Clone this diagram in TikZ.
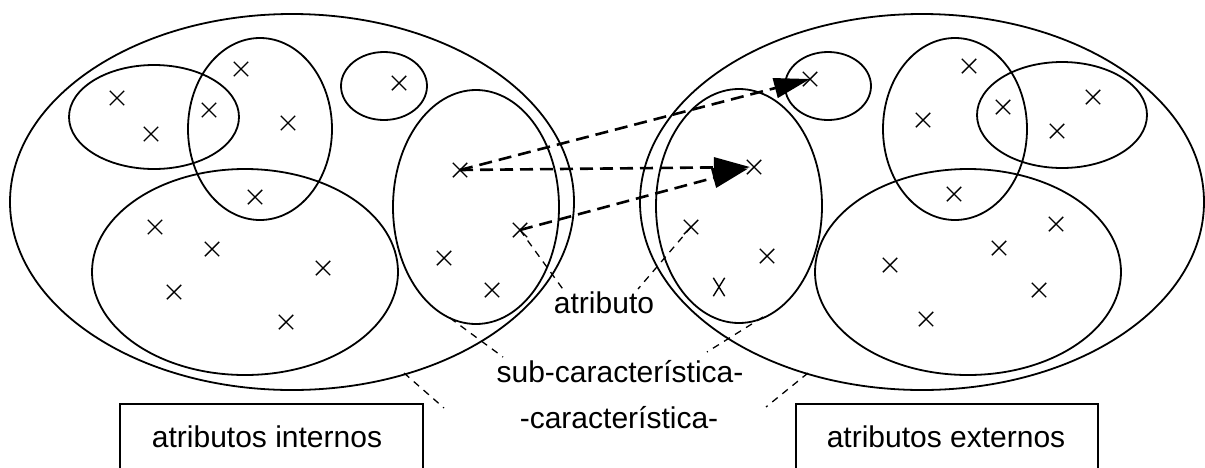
\documentclass[tikz,border=0pt]{standalone}
\usepackage{fontspec}
\setmainfont{Liberation Sans}
\usetikzlibrary{shapes.misc,arrows.meta}
\tikzset{
  ell/.style={draw, line width=1.8pt},
  mk/.style={cross out, draw, line width=1.4pt, minimum width=13pt, minimum height=13pt, inner sep=0pt},
  tallmk/.style={mk, minimum width=10pt, minimum height=17pt},
  darrow/.style={line width=2.6pt, dash pattern=on 13pt off 7pt, -{Triangle[length=36pt,width=20pt]}},
  leader/.style={line width=1.3pt, dash pattern=on 7pt off 6pt},
  lbl/.style={font=\fontsize{30}{36}\selectfont, inner sep=0pt, anchor=base},
  boxst/.style={draw, line width=1.8pt, minimum width=303pt, minimum height=100pt, anchor=north, inner sep=0pt}
}
\begin{document}
\begin{tikzpicture}[x=1pt,y=-1pt]
\useasboundingbox (0,0) rectangle (1205,467);
% ---------- left group ----------
\draw[ell] (292,202) ellipse [x radius=282pt, y radius=188pt];
\draw[ell] (154,117) ellipse [x radius=85pt, y radius=52pt];
\draw[ell] (260,129) ellipse [x radius=72pt, y radius=91pt];
\draw[ell] (384,86) ellipse [x radius=43pt, y radius=34pt];
\draw[ell] (245,272) ellipse [x radius=153pt, y radius=103pt];
\draw[ell] (476,207) ellipse [x radius=83pt, y radius=117pt];
\node[mk] (L1) at (117,98) {};
\node[mk] (L2) at (151,134) {};
\node[mk] (L3) at (209,110) {};
\node[mk] (L4) at (241,69) {};
\node[mk] (L5) at (288,123) {};
\node[mk] (L6) at (255,197) {};
\node[mk] (L7) at (155,227) {};
\node[mk] (L8) at (212,249) {};
\node[mk] (L9) at (323,268) {};
\node[mk] (L10) at (174,292) {};
\node[mk] (L11) at (286,322) {};
\node[mk] (L14) at (399,83) {};
\node[mk] (L12) at (460,170) {};
\node[mk] (L13) at (520,230) {};
\node[mk] (L15) at (444,258) {};
\node[mk] (L16) at (492,290) {};
% ---------- right group ----------
\draw[ell] (922,202) ellipse [x radius=282pt, y radius=188pt];
\draw[ell] (828,86) ellipse [x radius=43pt, y radius=34pt];
\draw[ell] (739,206) ellipse [x radius=83pt, y radius=117pt];
\draw[ell] (955,129) ellipse [x radius=72pt, y radius=91pt];
\draw[ell] (1062,115) ellipse [x radius=85pt, y radius=53pt];
\draw[ell] (968,272) ellipse [x radius=153pt, y radius=103pt];
\node[mk] (R1) at (810,79) {};
\node[mk] (R2) at (754,167) {};
\node[mk] (R3) at (691,227) {};
\node[mk] (R4) at (767,256) {};
\node[tallmk] (R5) at (719,287) {};
\node[mk] (R6) at (969,66) {};
\node[mk] (R7) at (923,120) {};
\node[mk] (R8) at (1003,107) {};
\node[mk] (R9) at (1057,131) {};
\node[mk] (R10) at (1093,97) {};
\node[mk] (R11) at (954,194) {};
\node[mk] (R12) at (1056,224) {};
\node[mk] (R13) at (999,248) {};
\node[mk] (R14) at (890,265) {};
\node[mk] (R15) at (1039,290) {};
\node[mk] (R16) at (926,319) {};
% ---------- arrows ----------
\draw[darrow] (L12.center) -- (R1.center);
\draw[darrow, shorten >=4pt] (L12.center) -- (R2.center);
\draw[darrow, shorten >=6pt] (L13.center) -- (R2.center);
% ---------- labels ----------
\node[lbl] (tA) at (604,313) {atributo};
\node[lbl] (tS) at (620,382) {sub-característica-};
\node[lbl] (tC) at (619,428) {-característica-};
\coordinate (aL) at (565,292);
\coordinate (aR) at (638,289);
\coordinate (sL0) at (450,318);
\coordinate (sL1) at (503,357);
\coordinate (sR0) at (763,317);
\coordinate (sR1) at (707,352);
\coordinate (cL0) at (404,373);
\coordinate (cL1) at (444,408);
\coordinate (cR0) at (808,373);
\coordinate (cR1) at (766,407);
\draw[leader] (L13.center) -- (aL);
\draw[leader] (R3.center) -- (aR);
\draw[leader] (sL0) -- (sL1);
\draw[leader] (sR0) -- (sR1);
\draw[leader] (cL0) -- (cL1);
\draw[leader] (cR0) -- (cR1);
% ---------- boxes ----------
\node[boxst] (bL) at (271.5,403) {};
\node[boxst, minimum width=302pt] (bR) at (947,403) {};
\node[lbl] (tI) at (267,447) {atributos internos};
\node[lbl] (tE) at (946,447) {atributos externos};
\end{tikzpicture}
\end{document}
